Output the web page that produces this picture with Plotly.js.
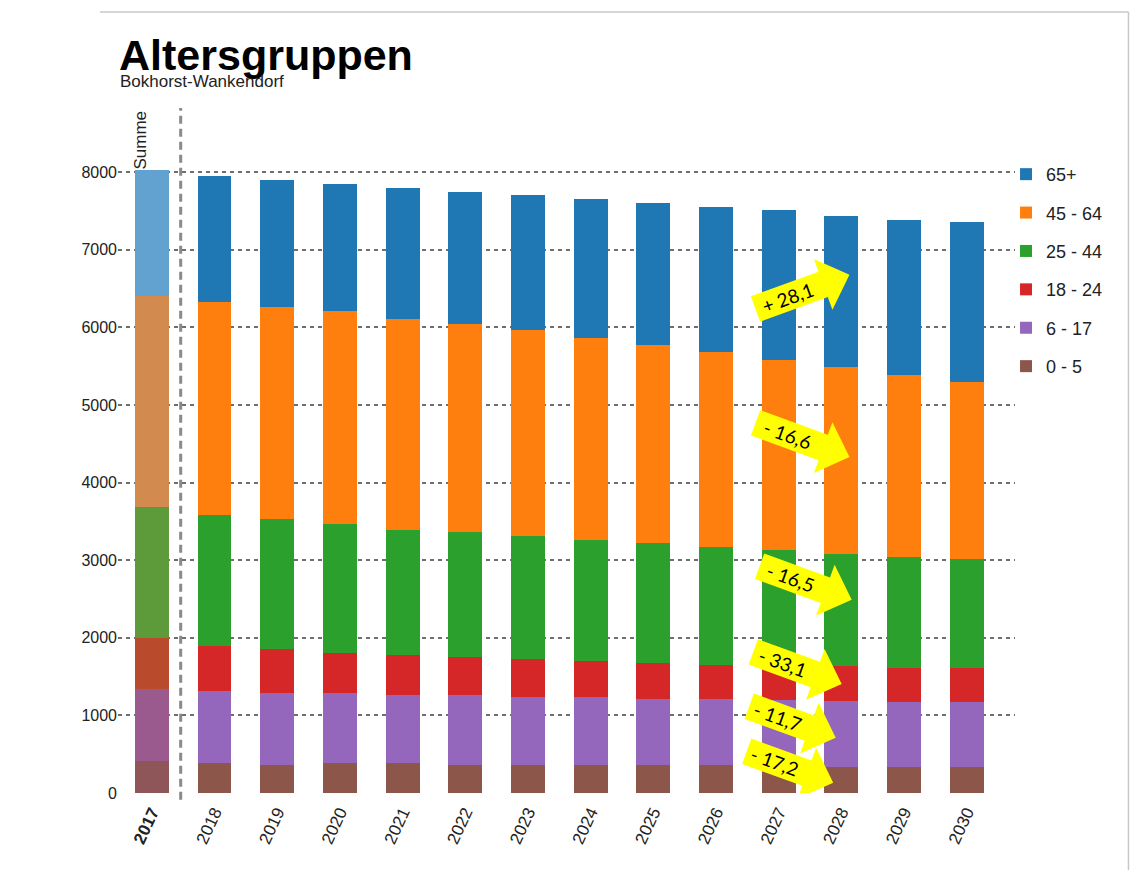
<!DOCTYPE html>
<html>
<head>
<meta charset="utf-8">
<script src="https://cdn.plot.ly/plotly-3.0.1.min.js"></script>
<style>
  html, body { margin: 0; padding: 0; background: #fff; }
  #chart { width: 1139px; height: 870px; }
</style>
</head>
<body>
<div id="chart"></div>
<script>
// ---- Data ----
const years = ['2017','2018','2019','2020','2021','2022','2023','2024','2025','2026','2027','2028','2029','2030'];
const yearLabels = ['<b>2017</b>','2018','2019','2020','2021','2022','2023','2024','2025','2026','2027','2028','2029','2030'];
const seriesNames = ['0 - 5','6 - 17','18 - 24','25 - 44','45 - 64','65+'];
const age0_5   = [417, 387, 361, 382, 382, 361, 361, 361, 361, 361, 345, 335, 340, 340];
const age6_17  = [918, 927, 927, 906, 880, 901, 875, 875, 850, 850, 850, 854, 832, 832];
const age18_24 = [661, 585, 564, 517, 515, 489, 489, 464, 469, 441, 445, 446, 434, 434];
const age25_44 = [1686, 1685, 1685, 1659, 1614, 1613, 1588, 1565, 1538, 1514, 1488, 1451, 1437, 1415];
const age45_64 = [2724, 2749, 2723, 2749, 2723, 2681, 2656, 2604, 2558, 2511, 2454, 2398, 2344, 2269];
const age65p   = [1620, 1615, 1637, 1637, 1684, 1706, 1734, 1787, 1828, 1880, 1928, 1948, 2002, 2065];
const changeLabels = ['- 17,2','- 11,7','- 33,1','- 16,5','- 16,6','+ 28,1'];

// ---- Styles ----
const mainColors  = ['#8c564b','#9467bd','#d62728','#2ca02c','#ff7f0e','#1f77b4'];
const fadedColors = ['#8e5658','#9a5a8e','#b94b2c','#5c9a3a','#d28a4e','#62a2d0'];
const allSeries = [age0_5, age6_17, age18_24, age25_44, age45_64, age65p];
const baseFont = '"Liberation Sans", Arial, sans-serif';

// 2017 ("Summe") bar: faded colours, not in legend
const sumTraces = allSeries.map((vals, i) => ({
  type: 'bar', name: seriesNames[i], showlegend: false,
  x: years.slice(0, 1), y: vals.slice(0, 1),
  marker: { color: fadedColors[i], line: { width: 0 } },
  hoverinfo: 'skip'
}));
// forecast bars 2018-2030
const mainTraces = allSeries.map((vals, i) => ({
  type: 'bar', name: seriesNames[i],
  legendgroup: 'g' + i, legendrank: 6 - i,
  x: years.slice(1), y: vals.slice(1),
  marker: { color: mainColors[i], line: { width: 0 } },
  hoverinfo: 'skip'
}));

// yellow block arrows (decoration), geometry in pixels around an anchor
// [category index, value, angle (deg, clockwise), length]
const arrowAnchors = [
  [10.18, 335, 20, 92],
  [10.22, 915, 20, 92],
  [10.30, 1611, 20, 94],
  [10.43, 2706, 20, 98],
  [10.38, 4549, 20, 100],
  [10.38, 6457, -20, 100]
];
function arrowPath(len, bodyH, headL, headW, angDeg) {
  const a = angDeg * Math.PI / 180;
  const h = len / 2;
  const pts = [[-h, bodyH/2], [h-headL, bodyH/2], [h-headL, headW/2], [h, 0],
               [h-headL, -headW/2], [h-headL, -bodyH/2], [-h, -bodyH/2]];
  const r = pts.map(([x, y]) => [x*Math.cos(a) + y*Math.sin(a), -x*Math.sin(a) + y*Math.cos(a)]);
  return 'M' + r.map(p => p[0].toFixed(2) + ',' + p[1].toFixed(2)).join('L') + 'Z';
}
const headL = 28;
const shapes = [];
const annotations = [];
arrowAnchors.forEach((an, i) => {
  const [cx, cy, ang, len] = an;
  shapes.push({
    type: 'path', xref: 'x', yref: 'y',
    xsizemode: 'pixel', ysizemode: 'pixel',
    xanchor: cx, yanchor: cy,
    path: arrowPath(len, 27, headL, 54, ang),
    fillcolor: '#ffff00', line: { width: 0 }, layer: 'above'
  });
  const a = ang * Math.PI / 180;
  annotations.push({
    x: cx, y: cy, xref: 'x', yref: 'y',
    text: changeLabels[i], showarrow: false, textangle: ang,
    xshift: -(headL/2 + 2) * Math.cos(a), yshift: (headL/2 + 2) * Math.sin(a),
    font: { family: 'Lato, "Open Sans", sans-serif', size: 19, color: '#000' }
  });
});

// separator between 2017 and forecast
shapes.push({
  type: 'line', xref: 'x', yref: 'paper', x0: 0.46, x1: 0.46, y0: -0.01, y1: 1,
  line: { color: '#8a8a8a', width: 3, dash: '8px,5px' }, layer: 'above'
});
// frame lines (top and right)
shapes.push({ type: 'line', xref: 'paper', yref: 'paper', x0: -0.02, x1: 1.1265, y0: 1.140, y1: 1.140,
  line: { color: '#c8c8c8', width: 1.5 } });
shapes.push({ type: 'line', xref: 'paper', yref: 'paper', x0: 1.1265, x1: 1.1265, y0: 1.140, y1: -0.115,
  line: { color: '#c8c8c8', width: 1.5 } });

annotations.push({
  x: -0.18, y: 8415, xref: 'x', yref: 'y', text: 'Summe', showarrow: false, textangle: -90,
  font: { family: baseFont, size: 17, color: '#222' }
});
annotations.push({
  x: 0.0, y: (793 - 81) / 685, xref: 'paper', yref: 'paper', xanchor: 'left', yanchor: 'middle',
  text: 'Bokhorst-Wankendorf', showarrow: false,
  font: { family: baseFont, size: 17, color: '#222' }
});

const layout = {
  width: 1139, height: 870,
  paper_bgcolor: '#ffffff', plot_bgcolor: '#ffffff',
  margin: { l: 118, r: 124, t: 108, b: 77 },
  barmode: 'stack',
  bargap: 0.46,
  title: {
    text: '<b>Altersgruppen</b>',
    xref: 'container', yref: 'container',
    x: 119/1139, xanchor: 'left', y: 1 - 55/870, yanchor: 'middle',
    font: { family: baseFont, size: 43, color: '#000' }
  },
  font: { family: baseFont, color: '#222' },
  xaxis: {
    type: 'category',
    range: [-0.54, 13.77],
    tickmode: 'array', tickvals: years, ticktext: yearLabels,
    tickangle: -65,
    ticklabelstandoff: 5,
    tickfont: { size: 17, color: '#222' },
    showgrid: false, zeroline: false, showline: false, ticks: ''
  },
  yaxis: {
    range: [0, 8827],
    dtick: 1000, tick0: 0,
    tickfont: { size: 16, color: '#222' },
    showgrid: true, gridcolor: '#6e6e6e', gridwidth: 2, griddash: '4px,4px',
    zeroline: false, showline: false, ticks: ''
  },
  showlegend: true,
  legend: {
    x: 0.99, xanchor: 'left', y: 0.93, yanchor: 'top',
    traceorder: 'grouped', tracegroupgap: 12,
    font: { size: 18, color: '#222' },
    bgcolor: 'rgba(0,0,0,0)'
  },
  shapes: shapes,
  annotations: annotations
};

Plotly.newPlot('chart', sumTraces.concat(mainTraces), layout, { staticPlot: true, displayModeBar: false });
</script>
</body>
</html>
